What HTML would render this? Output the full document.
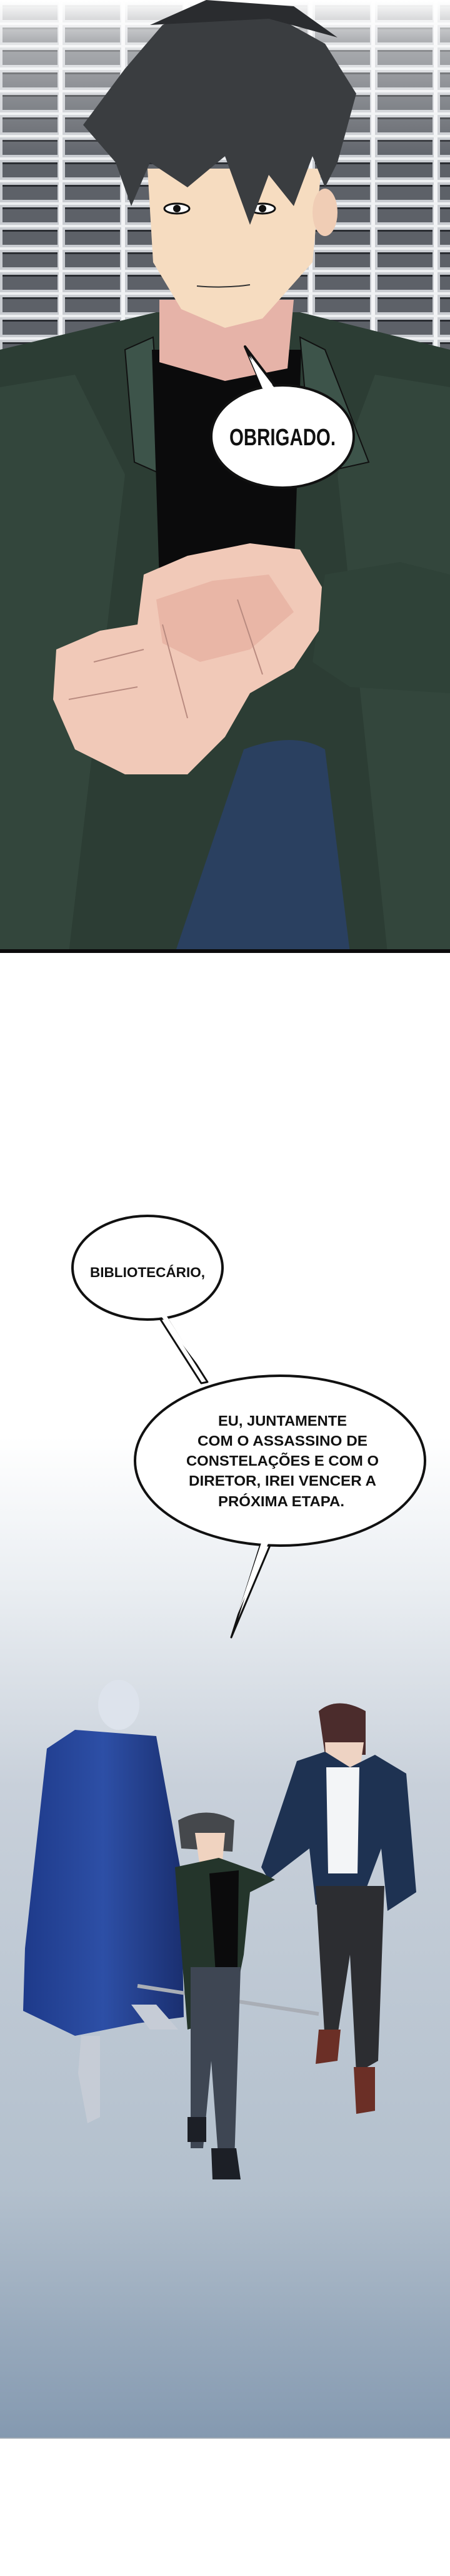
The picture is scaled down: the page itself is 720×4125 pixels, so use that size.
<!DOCTYPE html>
<html><head><meta charset="utf-8"><style>
html,body{margin:0;padding:0;background:#fff;}
body{width:720px;height:4125px;position:relative;overflow:hidden;}
svg{position:absolute;left:0;top:0;}
text{font-family:"Liberation Sans",sans-serif;font-weight:bold;fill:#111;}
</style></head><body>
<svg width="720" height="4125" viewBox="0 0 720 4125" xmlns="http://www.w3.org/2000/svg">
<defs>
<pattern id="shelf" width="100" height="36" patternUnits="userSpaceOnUse">
<rect width="100" height="36" fill="#c9ccd1"/>
<rect x="4" y="8" width="88" height="24" fill="#5d6168"/>
<rect x="4" y="8" width="88" height="3" fill="#2a2d32"/>
<rect x="94" y="0" width="6" height="36" fill="#f3f4f6"/>
<rect x="0" y="0" width="100" height="4" fill="#eef0f2"/>
</pattern>
<linearGradient id="fadeTop" x1="0" y1="0" x2="0" y2="1">
<stop offset="0" stop-color="#fff" stop-opacity="1"/>
<stop offset="0.25" stop-color="#fff" stop-opacity="0.5"/>
<stop offset="1" stop-color="#fff" stop-opacity="0"/>
</linearGradient>
<linearGradient id="floor" x1="0" y1="0" x2="0" y2="1">
<stop offset="0" stop-color="#ffffff"/>
<stop offset="0.15" stop-color="#eaeef2"/>
<stop offset="0.35" stop-color="#c8d0da"/>
<stop offset="0.75" stop-color="#b3c0cd"/>
<stop offset="1" stop-color="#8499b0"/>
</linearGradient>
<linearGradient id="cape" x1="0" y1="0" x2="1" y2="0">
<stop offset="0" stop-color="#1e3a8a"/><stop offset="0.5" stop-color="#2d4fa6"/><stop offset="1" stop-color="#1a2f70"/>
</linearGradient>
</defs>

<!-- TOP PANEL -->
<rect x="0" y="0" width="720" height="1526" fill="url(#shelf)"/>
<rect x="0" y="0" width="720" height="260" fill="url(#fadeTop)"/>
<!-- jacket -->
<path d="M0 560 L250 500 L480 500 L720 560 L720 1526 L0 1526 Z" fill="#2c3d34"/>
<path d="M0 620 L120 600 L200 760 L110 1526 L0 1526 Z" fill="#33463c"/>
<path d="M720 620 L600 600 L540 760 L620 1526 L720 1526 Z" fill="#33463c"/>
<path d="M200 560 L245 540 L260 760 L215 740 Z" fill="#3d544a" stroke="#111" stroke-width="2"/>
<path d="M520 560 L480 540 L500 760 L590 740 Z" fill="#3d544a" stroke="#111" stroke-width="2"/>
<path d="M243 560 L482 560 L470 930 L255 930 Z" fill="#0b0b0c"/>
<path d="M255 480 L470 480 L460 590 L360 610 L255 580 Z" fill="#e6b3a8"/>
<path d="M236 270 L514 270 L500 420 L420 510 L360 525 L290 495 L245 420 Z" fill="#f6dcc0"/>
<ellipse cx="520" cy="340" rx="20" ry="38" fill="#f0cdb5"/>
<ellipse cx="283" cy="334" rx="20" ry="8" fill="#fff" stroke="#111" stroke-width="3"/>
<circle cx="283" cy="334" r="6" fill="#111"/>
<ellipse cx="420" cy="334" rx="20" ry="8" fill="#fff" stroke="#111" stroke-width="3"/>
<circle cx="420" cy="334" r="6" fill="#111"/>
<path d="M315 458 Q360 462 400 456" stroke="#333" stroke-width="2" fill="none"/>
<path d="M133 200 L200 110 L260 40 L330 10 L430 20 L520 70 L570 150 L540 260 L520 300 L500 250 L470 330 L430 280 L400 360 L360 250 L300 300 L240 260 L210 330 L185 260 Z" fill="#3a3d40"/>
<path d="M240 40 L330 0 L470 10 L540 60 L430 30 Z" fill="#2a2c2f"/>
<!-- hands -->
<path d="M520 920 L640 900 L720 920 L720 1110 L560 1100 L500 1060 Z" fill="#2f4238"/>
<path d="M230 920 L300 890 L400 870 L480 880 L515 940 L510 1010 L470 1070 L400 1110 L360 1180 L300 1240 L200 1240 L120 1200 L85 1120 L90 1040 L160 1010 L220 1000 Z" fill="#f1c9b8"/>
<path d="M250 960 L340 930 L430 920 L470 980 L400 1040 L320 1060 L260 1030 Z" fill="#e9b6a6"/>
<path d="M150 1060 L230 1040 M110 1120 L220 1100 M260 1000 L300 1150 M380 960 L420 1080" stroke="#b98b80" stroke-width="2" fill="none"/>
<path d="M390 1200 Q470 1170 520 1200 L560 1526 L280 1526 Z" fill="#2a4060"/>
<rect x="0" y="1520" width="720" height="6" fill="#0b0b0c"/>

<!-- OBRIGADO bubble -->
<path d="M392 555 L420 620 L440 618 Z" fill="#fff" stroke="#111" stroke-width="4" stroke-linejoin="round"/>
<ellipse cx="452" cy="699" rx="114" ry="82" fill="#fff" stroke="#111" stroke-width="4"/>
<path d="M398 570 L420 622 L440 622 Z" fill="#fff"/>
<text x="452" y="713" font-size="38" text-anchor="middle" textLength="170" lengthAdjust="spacingAndGlyphs">OBRIGADO.</text>

<!-- BOTTOM SCENE -->
<rect x="0" y="2300" width="720" height="1605" fill="url(#floor)"/>
<rect x="0" y="3903" width="720" height="2" fill="#9aa5b0"/>
<ellipse cx="190" cy="2730" rx="33" ry="40" fill="#dde3ec"/>
<path d="M120 2770 L75 2800 L40 3120 L37 3220 L120 3260 L220 3240 L294 3230 L290 3000 L250 2780 Z" fill="url(#cape)"/>
<path d="M130 3260 L160 3260 L160 3390 L140 3400 L125 3320 Z" fill="#c6ccd6"/>
<path d="M210 3210 L250 3210 L285 3250 L240 3250 Z" fill="#c6ccd6"/>
<path d="M220 3180 L510 3225" stroke="#a9aeb6" stroke-width="6"/>
<path d="M510 2740 Q540 2715 585 2740 L585 2810 L520 2810 Z" fill="#4b2c2c"/>
<path d="M520 2790 L582 2790 L575 2840 L545 2850 L522 2830 Z" fill="#eed3c3"/>
<path d="M475 2820 L520 2805 L560 2830 L600 2810 L650 2840 L666 3030 L620 3060 L610 2960 L580 3040 L505 3050 L495 2960 L430 3010 L418 2990 Z" fill="#1e3252"/>
<path d="M522 2830 L575 2830 L572 3000 L525 3000 Z" fill="#f3f5f7"/>
<path d="M505 3020 L615 3020 L605 3300 L570 3320 L560 3130 L540 3260 L520 3270 Z" fill="#2c2d31"/>
<path d="M510 3250 L545 3250 L540 3300 L505 3305 Z" fill="#6b2f26"/>
<path d="M566 3310 L600 3310 L600 3380 L570 3385 Z" fill="#6b2f26"/>
<path d="M285 2915 Q330 2890 375 2915 L372 2965 L290 2960 Z" fill="#45484c"/>
<path d="M312 2935 L360 2935 L355 2990 L320 2990 Z" fill="#f0d3c0"/>
<path d="M280 2990 L350 2975 L420 3000 L440 3010 L400 3030 L390 3130 L370 3230 L300 3250 Z" fill="#24352b"/>
<path d="M335 3000 L382 2995 L380 3150 L345 3160 Z" fill="#0b0b0c"/>
<path d="M305 3150 L385 3150 L375 3460 L350 3465 L338 3300 L325 3440 L305 3440 Z" fill="#3e4653"/>
<path d="M338 3440 L378 3440 L385 3490 L340 3490 Z" fill="#1c1f26"/>
<path d="M300 3390 L330 3390 L330 3430 L300 3430 Z" fill="#1c1f26"/>

<!-- BIBLIOTECÁRIO bubble -->
<path d="M255 2110 L322 2215 L332 2213 L268 2112 Z" fill="#fff" stroke="#111" stroke-width="3" stroke-linejoin="round"/>
<ellipse cx="236" cy="2030" rx="120" ry="83" fill="#fff" stroke="#111" stroke-width="4"/>
<path d="M258 2108 L267 2108 L320 2190 Z" fill="#fff"/>
<text x="236" y="2045" font-size="22" text-anchor="middle" textLength="184" lengthAdjust="spacingAndGlyphs">BIBLIOTECÁRIO,</text>

<!-- big bubble -->
<path d="M418 2470 L370 2622 L434 2470 Z" fill="#fff" stroke="#111" stroke-width="3" stroke-linejoin="round"/>
<ellipse cx="448" cy="2339" rx="232" ry="136" fill="#fff" stroke="#111" stroke-width="4"/>
<path d="M420 2465 L380 2585 L432 2465 Z" fill="#fff"/>
<g font-size="23" text-anchor="middle">
<text x="452" y="2283" textLength="206" lengthAdjust="spacingAndGlyphs">EU, JUNTAMENTE</text>
<text x="452" y="2315" textLength="272" lengthAdjust="spacingAndGlyphs">COM O ASSASSINO DE</text>
<text x="452" y="2347" textLength="308" lengthAdjust="spacingAndGlyphs">CONSTELAÇÕES E COM O</text>
<text x="452" y="2379" textLength="300" lengthAdjust="spacingAndGlyphs">DIRETOR, IREI VENCER A</text>
<text x="450" y="2412" textLength="202" lengthAdjust="spacingAndGlyphs">PRÓXIMA ETAPA.</text>
</g>
</svg>
</body></html>
